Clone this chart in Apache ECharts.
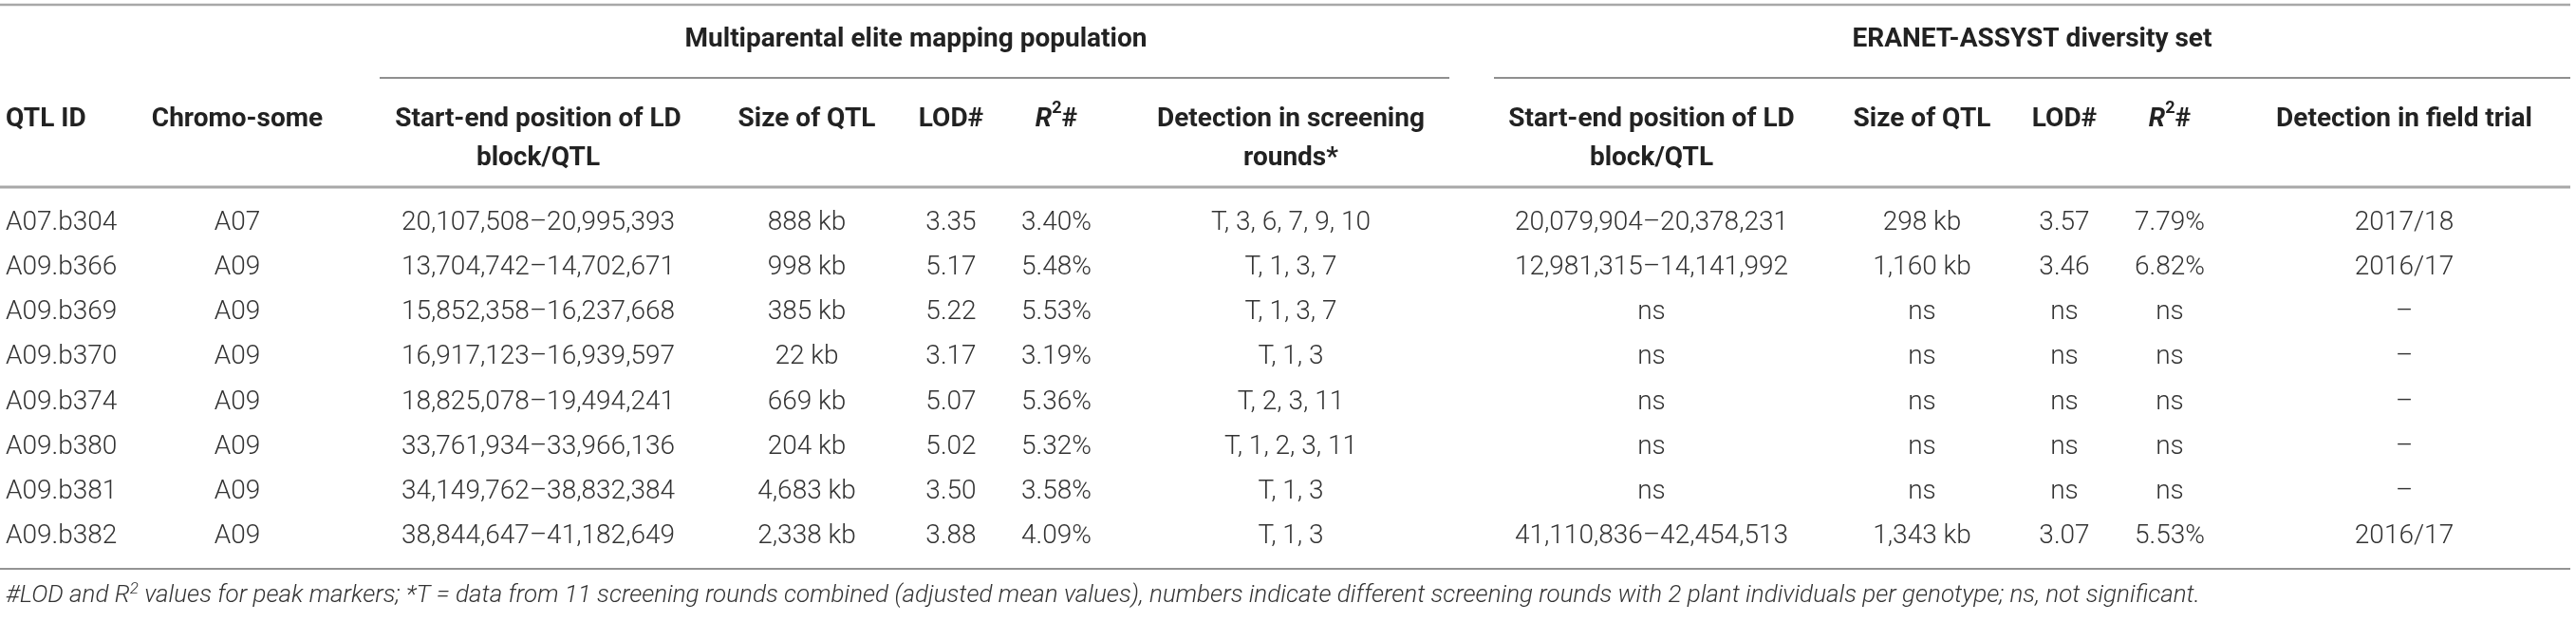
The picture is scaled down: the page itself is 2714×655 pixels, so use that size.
<!DOCTYPE html>
<html><head><meta charset="utf-8">
<script src="https://cdn.jsdelivr.net/npm/echarts@6/dist/echarts.min.js"></script>
<style>html,body{margin:0;padding:0;background:#fff}#c{width:2714px;height:655px}</style>
</head><body><div id="c"></div>
<script>
// ---- data ----
const qtlIds = ['A07.b304','A09.b366','A09.b369','A09.b370','A09.b374','A09.b380','A09.b381','A09.b382'];
const chromosomes = ['A07','A09','A09','A09','A09','A09','A09','A09'];
const mepPositions = ['20,107,508–20,995,393','13,704,742–14,702,671','15,852,358–16,237,668','16,917,123–16,939,597','18,825,078–19,494,241','33,761,934–33,966,136','34,149,762–38,832,384','38,844,647–41,182,649'];
const mepSizes = ['888 kb','998 kb','385 kb','22 kb','669 kb','204 kb','4,683 kb','2,338 kb'];
const mepLod = ['3.35','5.17','5.22','3.17','5.07','5.02','3.50','3.88'];
const mepR2 = ['3.40%','5.48%','5.53%','3.19%','5.36%','5.32%','3.58%','4.09%'];
const mepRounds = ['T, 3, 6, 7, 9, 10','T, 1, 3, 7','T, 1, 3, 7','T, 1, 3','T, 2, 3, 11','T, 1, 2, 3, 11','T, 1, 3','T, 1, 3'];
const divPositions = ['20,079,904–20,378,231','12,981,315–14,141,992','ns','ns','ns','ns','ns','41,110,836–42,454,513'];
const divSizes = ['298 kb','1,160 kb','ns','ns','ns','ns','ns','1,343 kb'];
const divLod = ['3.57','3.46','ns','ns','ns','ns','ns','3.07'];
const divR2 = ['7.79%','6.82%','ns','ns','ns','ns','ns','5.53%'];
const fieldTrial = ['2017/18','2016/17','–','–','–','–','–','2016/17'];

const groupHeaders = ['Multiparental elite mapping population','ERANET-ASSYST diversity set'];
const colHeaders = ['QTL ID','Chromo-some','Start-end position of LD\nblock/QTL','Size of QTL','LOD#','{ri|R}{rs|2}#',
  'Detection in screening\nrounds*','Start-end position of LD\nblock/QTL','Size of QTL','LOD#','{ri|R}{rs|2}#','Detection in field trial'];
const footnote = '#LOD and R{fs|2} values for peak markers; *T = data from 11 screening rounds combined (adjusted mean values), numbers indicate different screening rounds with 2 plant individuals per genotype; ns, not significant.';

// ---- layout ----
const columns = [qtlIds, chromosomes, mepPositions, mepSizes, mepLod, mepR2, mepRounds, divPositions, divSizes, divLod, divR2, fieldTrial];
const colX = [6, 250, 567, 850, 1002, 1113, 1360, 1740, 2025, 2175, 2286, 2533];
const colAlign = ['left','center','center','center','center','center','center','center','center','center','center','center'];
const groupX = [965, 2141];
const groupLine = [[400,1527],[1574,2708]];

const cells = [];
columns.forEach((col, ci) => col.forEach((v, ri) => cells.push([ci, ri, v])));

const bodyFont = "'Roboto','Liberation Sans',sans-serif";
const headFont = "'Roboto','Liberation Sans',sans-serif";

const chart = echarts.init(document.getElementById('c'), null, {renderer:'canvas'});

const graphics = [];
// lines
graphics.push({type:'line', shape:{x1:0,y1:5,x2:2708,y2:5}, style:{stroke:'#a8a8a8', lineWidth:2.5}, silent:true});
graphics.push({type:'line', shape:{x1:0,y1:197,x2:2708,y2:197}, style:{stroke:'#a8a8a8', lineWidth:3}, silent:true});
groupLine.forEach(g => graphics.push({type:'line', shape:{x1:g[0],y1:82,x2:g[1],y2:82}, style:{stroke:'#6a6a6a', lineWidth:1.5}, silent:true}));
graphics.push({type:'line', shape:{x1:0,y1:599,x2:2708,y2:599}, style:{stroke:'#707070', lineWidth:1.5}, silent:true});
// group headers
groupHeaders.forEach((t,i) => graphics.push({type:'text', x:groupX[i], y:42, style:{text:t, fill:'#222', fontFamily:headFont, fontWeight:'bold', fontSize:28, align:'center', verticalAlign:'middle'}}));
// column headers
const headRich = {
  ri:{fontStyle:'italic', fontWeight:'bold', fontSize:28, fontFamily:headFont, fill:'#222', lineHeight:34},
  rs:{fontWeight:'bold', fontSize:18, fontFamily:headFont, fill:'#222', lineHeight:18, verticalAlign:'top'}
};
colHeaders.forEach((t,i) => graphics.push({type:'text', x:colX[i], y:105, style:{text:t, rich:headRich, fill:'#222', fontFamily:headFont, fontWeight:'bold', fontSize:28, lineHeight:41, align:colAlign[i], verticalAlign:'top'}}));
// footnote
graphics.push({type:'text', x:6, y:627, style:{text:footnote, fill:'#333', fontFamily:bodyFont, fontWeight:300, fontStyle:'italic', fontSize:26,
  rich:{fs:{fontSize:17, fontStyle:'italic', fontWeight:300, fontFamily:bodyFont, fill:'#333', lineHeight:16, verticalAlign:'top'}},
  lineHeight:30, align:'left', verticalAlign:'middle'}});

chart.setOption({
  animation:false,
  grid:{left:0, right:0, top:211.4, bottom:66.4},
  xAxis:{type:'value', min:0, max:2714, show:false},
  yAxis:{type:'category', data:qtlIds, inverse:true, show:false},
  graphic:graphics,
  series:[{
    type:'custom',
    data:cells,
    renderItem:function(params, api){
      const ci = api.value(0), ri = api.value(1);
      const p = api.coord([colX[ci], ri]);
      return {type:'text', x:p[0], y:p[1], style:{text:columns[ci][ri], fill:'#333', fontFamily:bodyFont, fontWeight:300, fontSize:28, align:colAlign[ci], verticalAlign:'middle'}};
    }
  }]
});
</script></body></html>
